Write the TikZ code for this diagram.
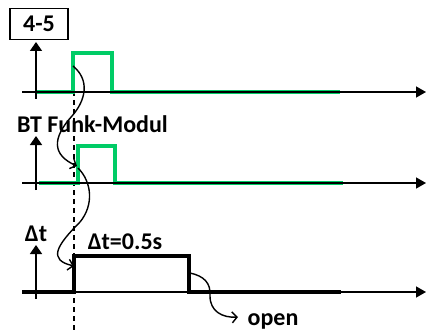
\documentclass[tikz,border=0pt]{standalone}
\usepackage{fontspec}
\setmainfont{Carlito}
\usetikzlibrary{arrows.meta}
\definecolor{sig}{RGB}{0,204,102}
\begin{document}
\begin{tikzpicture}[x=1pt,y=-1pt,
  axis/.style={line width=1.5pt,-{Triangle[length=10pt,width=11pt]}},
  vaxis/.style={line width=1.5pt,-{Triangle[length=9pt,width=12pt]}},
  green sig/.style={line width=3.6pt,draw=sig},
  black sig/.style={line width=4pt,draw=black},
  wiggle/.style={line width=1.4pt,-{Straight Barb[length=5pt,width=11pt]}},
  lbl/.style={font=\fontsize{24}{26}\selectfont\bfseries,inner sep=0pt},
  labelbox/.style={draw,line width=1.8pt,minimum width=58pt,minimum height=31pt,inner sep=0pt}]
\useasboundingbox (0,0) rectangle (427,331);
% labels
\node[labelbox,lbl] (box) at (39,24) {4-5};
\node[lbl,anchor=base west] (bt) at (17,132) {BT Funk-Modul};
\node[lbl,anchor=base] (dt) at (36,241) {Δt};
\node[lbl,anchor=base] (dtv) at (125,249) {Δt=0.5s};
\node[lbl,anchor=base] (open) at (273,325) {open};
% axis coordinates
\coordinate (a1s) at (22,92); \coordinate (a1e) at (426,92);
\coordinate (v1s) at (36,99); \coordinate (v1e) at (36,42);
\coordinate (a2s) at (22,183); \coordinate (a2e) at (426,183);
\coordinate (v2s) at (36,190); \coordinate (v2e) at (36,136);
\coordinate (a3s) at (22,292); \coordinate (a3e) at (426,292);
\coordinate (v3s) at (36,299); \coordinate (v3e) at (36,245);
% dashed line
\coordinate (ds) at (74,64); \coordinate (de) at (74,331);
\draw[line width=1.3pt,dash pattern=on 5pt off 4pt] (ds) -- (de);
% signals
\draw[green sig] (36,92) -- (73,92) -- (73,53) -- (112,53) -- (112,92) -- (340,92);
\draw[green sig] (39,183) -- (78,183) -- (78,146) -- (115,146) -- (115,183) -- (343,183);
\draw[black sig] (22,292) -- (74,292) -- (74,256) -- (189,256) -- (189,292) -- (341,292);
% axes
\draw[axis] (a1s) -- (a1e);
\draw[vaxis] (v1s) -- (v1e);
\draw[axis] (a2s) -- (a2e);
\draw[vaxis] (v2s) -- (v2e);
\draw[axis] (a3s) -- (a3e);
\draw[vaxis] (v3s) -- (v3e);
% wiggle arrows
\coordinate (w1s) at (73,66); \coordinate (w1e) at (77,166);
\coordinate (w2s) at (78,168); \coordinate (w2e) at (74,266);
\coordinate (w3s) at (190,273); \coordinate (w3e) at (238,317);
\draw[wiggle] (w1s) .. controls (90,80) and (86,100) .. (72,116) .. controls (52,138) and (52,155) .. (w1e);
\draw[wiggle] (w2s) .. controls (92,182) and (94,205) .. (80,222) .. controls (56,246) and (48,260) .. (w2e);
\draw[wiggle] (w3s) .. controls (204,276) and (211,283) .. (210,296) .. controls (210,311) and (222,318) .. (w3e);
\end{tikzpicture}
\end{document}
